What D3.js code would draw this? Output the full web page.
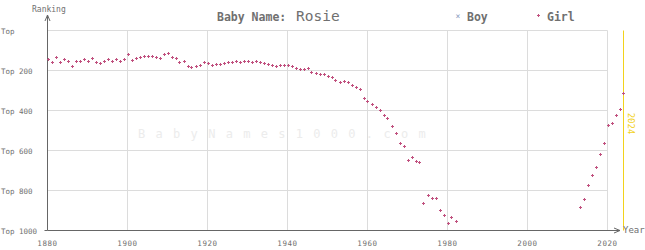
<!DOCTYPE html>
<html>
<head>
<meta charset="utf-8">
<script src="https://cdn.jsdelivr.net/npm/d3@7"></script>
<style>
  body { margin: 0; background: #fff; }
  svg text { font-family: "DejaVu Sans Mono", monospace; }
</style>
</head>
<body>
<div id="chart"></div>
<script>
// girl ranks, two runs with a gap (1983-2012 not ranked)
const yearsEarly = d3.range(1880, 1983);
const ranksEarly = [
  142, 157, 130, 157, 142, 152, 177, 152, 152, 142,
  152, 137, 157, 162, 152, 142, 152, 142, 152, 142,
  117, 147, 137, 132, 127, 127, 127, 132, 137, 117,
  112, 132, 137, 157, 152, 177, 182, 177, 172, 157,
  162, 172, 167, 167, 162, 157, 157, 152, 157, 152,
  152, 157, 152, 157, 162, 167, 172, 177, 172, 172,
  172, 177, 187, 192, 192, 187, 207, 212, 217, 217,
  227, 232, 247, 257, 252, 257, 272, 282, 292, 337,
  352, 367, 382, 397, 422, 437, 477, 512, 562, 577,
  647, 632, 652, 657, 862, 822, 837, 837, 897, 922,
  962, 932, 952
];
const yearsLate = d3.range(2013, 2025);
const ranksLate = [882, 842, 772, 722, 682, 617, 562, 472, 462, 422, 392, 312];

const yTicks = [0, 200, 400, 600, 800, 1000];
const yTickLabels = ["Top", "Top 200", "Top 400", "Top 600", "Top 800", "Top 1000"];
const xTicks = [1880, 1900, 1920, 1940, 1960, 1980, 2000, 2020];
const markYear = 2024;

const width = 645, height = 250;
const girlColor = "#c0507e", boyColor = "#8a9ac0", textColor = "#707070";

var svg = d3.select("#chart").append("svg")
    .attr("width", width)
    .attr("height", height);

var x = d3.scaleLinear().domain([1880, 2020]).range([47.5, 607.5]);
var y = d3.scaleLinear().domain([0, 1000]).range([30.5, 230.5]);

// grid
svg.append("g")
    .selectAll("line")
    .data(xTicks.slice(1))
    .join("line")
    .attr("x1", d => x(d)).attr("x2", d => x(d))
    .attr("y1", y(0)).attr("y2", y(1000))
    .attr("stroke", "#dcdcdc");

svg.append("g")
    .selectAll("line")
    .data(yTicks.slice(0, -1))
    .join("line")
    .attr("x1", x(1880)).attr("x2", x(2020))
    .attr("y1", d => y(d)).attr("y2", d => y(d))
    .attr("stroke", "#dcdcdc");

// watermark
svg.append("text")
    .attr("x", 287).attr("y", 138)
    .attr("text-anchor", "middle")
    .attr("fill", "#ececec")
    .style("font-size", "12px")
    .style("letter-spacing", "10.3px")
    .text("BabyNames1000.com");

// current year marker
svg.append("line")
    .attr("x1", x(markYear)).attr("x2", x(markYear))
    .attr("y1", y(0)).attr("y2", y(1000))
    .attr("stroke", "#f2d21c");

svg.append("text")
    .attr("transform", `translate(${x(markYear) + 4},${y(465)}) rotate(90)`)
    .attr("fill", "#f2d21c")
    .attr("text-anchor", "middle")
    .style("font-size", "9px")
    .text(markYear);

// axes
var axisColor = "#666";
svg.append("line")
    .attr("x1", x(1880)).attr("x2", x(1880))
    .attr("y1", 15).attr("y2", y(1000))
    .attr("stroke", axisColor);
svg.append("path")
    .attr("d", `M${x(1880) - 2.5},21 L${x(1880)},15 L${x(1880) + 2.5},21`)
    .attr("fill", "none").attr("stroke", axisColor);
svg.append("line")
    .attr("x1", x(1880)).attr("x2", 620)
    .attr("y1", y(1000)).attr("y2", y(1000))
    .attr("stroke", axisColor);
svg.append("path")
    .attr("d", `M614,${y(1000) - 2.5} L620,${y(1000)} L614,${y(1000) + 2.5}`)
    .attr("fill", "none").attr("stroke", axisColor);
svg.append("line")
    .attr("x1", x(1880) - 3).attr("x2", x(1880))
    .attr("y1", y(1000)).attr("y2", y(1000))
    .attr("stroke", axisColor);

svg.append("text")
    .attr("x", 32).attr("y", 12)
    .attr("fill", textColor)
    .style("font-size", "8px")
    .text("Ranking");
svg.append("text")
    .attr("x", 623).attr("y", 233)
    .attr("fill", textColor)
    .style("font-size", "9px")
    .text("Year");

svg.append("g")
    .selectAll("text")
    .data(yTicks)
    .join("text")
    .attr("x", 1)
    .attr("y", d => y(d) + 3)
    .attr("fill", textColor)
    .style("font-size", "7.5px")
    .text((d, i) => yTickLabels[i]);

svg.append("g")
    .selectAll("text")
    .data(xTicks)
    .join("text")
    .attr("x", d => x(d))
    .attr("y", 246)
    .attr("text-anchor", "middle")
    .attr("fill", textColor)
    .style("font-size", "7.5px")
    .style("letter-spacing", "0.6px")
    .text(d => d);

// title and legend
var title = svg.append("text")
    .attr("x", 217).attr("y", 21)
    .attr("fill", textColor);
title.append("tspan")
    .style("font-size", "11.5px").style("font-weight", "bold")
    .text("Baby Name: ");
title.append("tspan")
    .attr("x", 296)
    .style("font-size", "14.5px")
    .text("Rosie");

svg.append("text")
    .attr("x", 458).attr("y", 19)
    .attr("text-anchor", "middle")
    .attr("fill", boyColor)
    .style("font-size", "8px")
    .text("×");
svg.append("text")
    .attr("x", 467).attr("y", 21)
    .attr("fill", textColor)
    .style("font-size", "11.5px").style("font-weight", "bold")
    .text("Boy");

var plus = (px, py) => `M${px - 1.5},${py} h3 M${px},${py - 1.5} v3`;

svg.append("path")
    .attr("d", plus(538.5, 15.5))
    .attr("stroke", girlColor);
svg.append("text")
    .attr("x", 547).attr("y", 21)
    .attr("fill", textColor)
    .style("font-size", "11.5px").style("font-weight", "bold")
    .text("Girl");

// girl points
var points = [
    ...yearsEarly.map((yr, i) => ({ year: yr, rank: ranksEarly[i] })),
    ...yearsLate.map((yr, i) => ({ year: yr, rank: ranksLate[i] }))
];

svg.append("g")
    .selectAll("path")
    .data(points)
    .join("path")
    .attr("d", d => plus(Math.round(x(d.year)) + 0.5, Math.round(y(d.rank)) + 0.5))
    .attr("stroke", girlColor)
    .attr("stroke-width", 1);
</script>
</body>
</html>
